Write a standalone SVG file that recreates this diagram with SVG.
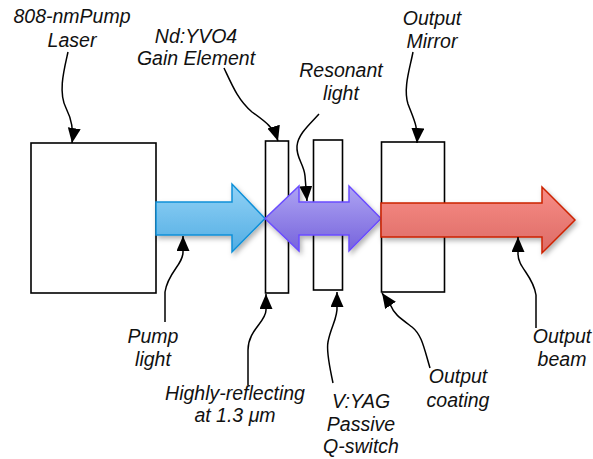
<svg xmlns="http://www.w3.org/2000/svg" width="593" height="459" viewBox="0 0 593 459">
<style>
.box{fill:#fff;stroke:#000;stroke-width:1.6}
.lbl{font-family:"Liberation Sans",Arial,sans-serif;font-style:italic;font-size:19.5px;fill:#111;text-anchor:middle}
.con{fill:none;stroke:#000;stroke-width:1.5;marker-end:url(#ah)}
</style>
<defs>
<marker id="ah" markerUnits="userSpaceOnUse" markerWidth="16" markerHeight="14" refX="15" refY="6.5" orient="auto">
<path d="M0,0 L15,6.5 L0,13 z" fill="#000"/>
</marker>
<linearGradient id="gb" x1="0" y1="0" x2="0" y2="1"><stop offset="0" stop-color="#92d2f6"/><stop offset="1" stop-color="#52ade3"/></linearGradient>
<linearGradient id="gp" x1="0" y1="0" x2="0" y2="1"><stop offset="0" stop-color="#aea4f3"/><stop offset="1" stop-color="#7663dc"/></linearGradient>
<linearGradient id="gr" x1="0" y1="0" x2="0" y2="1"><stop offset="0" stop-color="#f88c86"/><stop offset="1" stop-color="#dc6b66"/></linearGradient>
<filter id="sh" x="-10%" y="-20%" width="130%" height="150%"><feDropShadow dx="2" dy="3" stdDeviation="2.5" flood-color="#000" flood-opacity="0.3"/></filter>
</defs>
<g id="pump-laser"><rect class="box" x="31" y="143" width="125" height="150"/></g>
<g id="gain-element"><rect class="box" x="265.5" y="141" width="23" height="152"/></g>
<g id="q-switch"><rect class="box" x="313.5" y="140" width="29" height="150"/></g>
<g id="output-mirror"><rect class="box" x="381.5" y="142" width="63" height="150"/></g>
<g id="pump-arrow"><path d="M156,202 L232,202 L232,184 L265,218.5 L232,252 L232,235 L156,235 Z" fill="url(#gb)" stroke="#0f90d8" stroke-width="1.5" filter="url(#sh)"/></g>
<g id="resonant-arrow"><path d="M265,218.5 L299,186 L299,202 L349,202 L349,186 L381,218.5 L349,251 L349,235 L299,235 L299,251 Z" fill="url(#gp)" stroke="#6a4cff" stroke-width="1.5" filter="url(#sh)"/></g>
<g id="output-arrow"><path d="M381,203 L542,203 L542,187 L575,220 L542,253 L542,237 L381,237 Z" fill="url(#gr)" stroke="#cc2200" stroke-width="1.5" filter="url(#sh)"/></g>
<g id="connectors">
<path class="con" d="M68,52 C64,70 58,92 66,108 C72,120 74,130 72,143"/>
<path class="con" d="M224,68 C232,85 238,100 252,112 C266,122 274,128 278,141"/>
<path class="con" d="M319,114 C310,124 298,134 297,146 C296,158 304,164 305,176 L307,201"/>
<path class="con" d="M413,52 C410,68 403,88 408,104 C414,120 418,126 417,143"/>
<path class="con" d="M165,322 L165,292 C168,272 183,265 183,252 L183,236"/>
<path class="con" d="M248,385 L248,350 C248,330 266,322 266,310 L266,294"/>
<path class="con" d="M333,383 C330,368 326,352 328,342 C331,326 338,318 337,306 L337,292"/>
<path class="con" d="M430,368 C424,348 422,335 412,327 C400,318 394,314 391,306 L382,293"/>
<path class="con" d="M536,328 L536,295 C533,275 518,268 518,254 L518,237"/>
</g>
<g id="labels">
<text class="lbl" x="72" y="23">808-nmPump</text>
<text class="lbl" x="72" y="47">Laser</text>
<text class="lbl" x="196" y="43">Nd:YVO4</text>
<text class="lbl" x="196" y="65">Gain Element</text>
<text class="lbl" x="341" y="77">Resonant</text>
<text class="lbl" x="341" y="100">light</text>
<text class="lbl" x="432" y="25">Output</text>
<text class="lbl" x="432" y="48">Mirror</text>
<text class="lbl" x="153" y="343">Pump</text>
<text class="lbl" x="153" y="366">light</text>
<text class="lbl" x="235" y="400">Highly-reflecting</text>
<text class="lbl" x="235" y="422">at 1.3 μm</text>
<text class="lbl" x="361" y="408">V:YAG</text>
<text class="lbl" x="361" y="431">Passive</text>
<text class="lbl" x="361" y="453">Q-switch</text>
<text class="lbl" x="458" y="383">Output</text>
<text class="lbl" x="458" y="407">coating</text>
<text class="lbl" x="562" y="343">Output</text>
<text class="lbl" x="562" y="366">beam</text>
</g>
</svg>
